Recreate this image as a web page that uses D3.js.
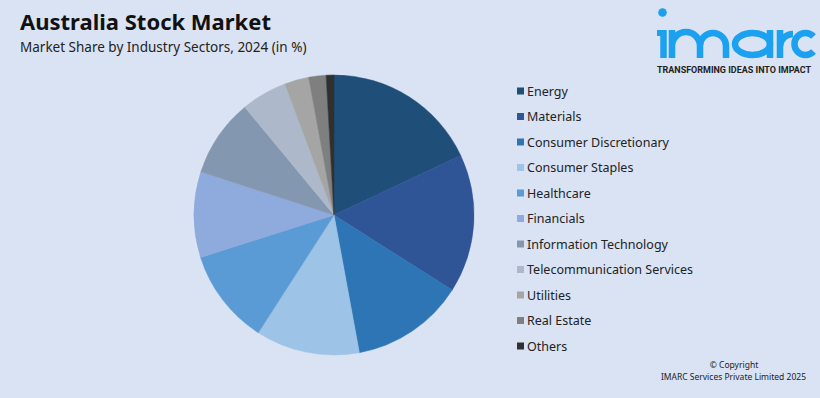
<!DOCTYPE html>
<html>
<head>
<meta charset="utf-8">
<script src="https://cdn.jsdelivr.net/npm/d3@7"></script>
<style>
  html, body { margin: 0; padding: 0; background: #dae3f3; }
  svg { display: block; font-family: "Noto Sans", "Open Sans", sans-serif; }
</style>
</head>
<body>
<div id="chart"></div>
<script>
// Market share by industry sector, 2024 (%)
const sectors = [
  "Energy", "Materials", "Consumer Discretionary", "Consumer Staples",
  "Healthcare", "Financials", "Information Technology",
  "Telecommunication Services", "Utilities", "Real Estate", "Others"
];
const shares = [18.0, 16.0, 13.1, 12.0, 11.0, 9.9, 9.0, 5.3, 2.8, 2.0, 0.9];
const colors = [
  "#1f4e79", "#2f5597", "#2e75b6", "#9dc3e6", "#5b9bd5", "#8faadc",
  "#8497b0", "#adb9ca", "#a5a5a5", "#7f7f7f", "#303030"
];

const width = 820, height = 398;
const cx = 334, cy = 215, radius = 140;

const svg = d3.select("#chart").append("svg")
  .attr("width", width)
  .attr("height", height);

svg.append("rect")
  .attr("width", width).attr("height", height)
  .attr("fill", "#dae3f3");

// Titles
svg.append("text")
  .attr("x", 20).attr("y", 30)
  .attr("font-size", 22).attr("font-weight", 700)
  .attr("fill", "#111")
  .text("Australia Stock Market");

svg.append("text")
  .attr("x", 20).attr("y", 52)
  .attr("font-size", 13.5)
  .attr("fill", "#222")
  .text("Market Share by Industry Sectors, 2024 (in %)");

// Pie
const data = sectors.map((s, i) => ({ name: s, value: shares[i], color: colors[i] }));

const pie = d3.pie().value(d => d.value).sort(null);
const arc = d3.arc().innerRadius(0).outerRadius(radius);

const g = svg.append("g").attr("transform", `translate(${cx},${cy})`);
g.selectAll("path")
  .data(pie(data))
  .enter()
  .append("path")
    .attr("d", arc)
    .attr("fill", d => d.data.color)
    .attr("stroke", d => d.data.color)
    .attr("stroke-width", 0.5);

// Legend
const legendY = d3.scalePoint()
  .domain(sectors)
  .range([91, 346]);

const legend = svg.append("g");
const items = legend.selectAll("g")
  .data(data)
  .enter()
  .append("g")
    .attr("transform", d => `translate(517,${legendY(d.name)})`);

items.append("rect")
  .attr("x", 0).attr("y", -3.5)
  .attr("width", 7).attr("height", 7)
  .attr("fill", d => d.color);

items.append("text")
  .attr("x", 10).attr("y", 4.5)
  .attr("font-size", 12.5)
  .attr("fill", "#222")
  .text(d => d.name);

// Logo, drawn as strokes so it does not crowd the tagline
const blue = "#1ba1ef";
const logo = svg.append("g")
  .attr("fill", "none")
  .attr("stroke", blue)
  .attr("stroke-width", 6.5);
logo.append("circle")
  .attr("cx", 662.5).attr("cy", 12.5).attr("r", 4.3)
  .attr("fill", blue).attr("stroke", "none");
logo.append("rect")
  .attr("x", 657).attr("y", 30).attr("width", 6).attr("height", 6)
  .attr("fill", blue).attr("stroke", "none");
logo.append("path").attr("d", "M663.5,30V58");
logo.append("path").attr("d",
  "M672,58V30M672,46A14,14 0 0 1 700,46V58M700,46A13,13 0 0 1 726,46V58");
logo.append("ellipse")
  .attr("cx", 752.5).attr("cy", 44).attr("rx", 17.5).attr("ry", 11);
logo.append("path").attr("d", "M770,30V58");
logo.append("path").attr("d", "M780,58V30M780,47A13,13 0 0 1 793,34");
logo.append("path").attr("d", "M813.5,36.5A11,11 0 1 0 813.5,51.5");

svg.append("text")
  .attr("x", 657).attr("y", 73)
  .attr("font-family", "Roboto, sans-serif")
  .attr("font-size", 8.2).attr("font-weight", 700)
  .attr("fill", "#222")
  .attr("textLength", 154).attr("lengthAdjust", "spacingAndGlyphs")
  .text("TRANSFORMING IDEAS INTO IMPACT");

// Copyright
svg.append("text")
  .attr("x", 734).attr("y", 368)
  .attr("text-anchor", "middle")
  .attr("font-size", 8.5)
  .attr("fill", "#222")
  .text("\u00a9 Copyright");
svg.append("text")
  .attr("x", 806).attr("y", 380)
  .attr("text-anchor", "end")
  .attr("font-size", 8.5)
  .attr("fill", "#222")
  .text("IMARC Services Private Limited 2025");
</script>
</body>
</html>
